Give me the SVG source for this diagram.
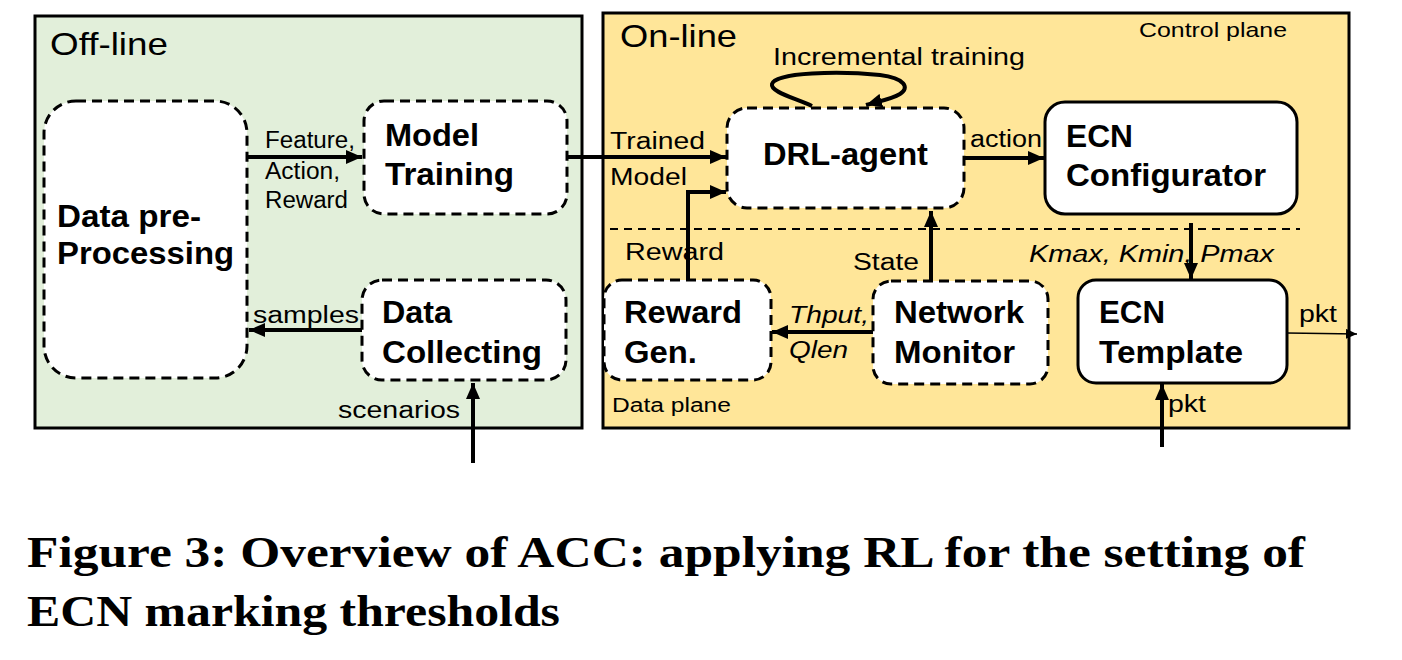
<svg xmlns="http://www.w3.org/2000/svg" width="1402" height="660" viewBox="0 0 1402 660">
<style>
.t{font-family:"Liberation Sans",Arial,sans-serif;fill:#000}
.nb{font-weight:bold;font-size:31px}
.lb{font-size:23px}
.it{font-style:italic}
.cap{font-family:"Liberation Serif","Times New Roman",serif;font-weight:bold;font-size:44px;fill:#000}
.dash{fill:#fff;stroke:#000;stroke-width:3;stroke-dasharray:10 6}
.solid{fill:#fff;stroke:#000;stroke-width:3}
.con{fill:none;stroke:#000;stroke-width:4}
</style>
<defs>
<marker id="ah" markerUnits="userSpaceOnUse" markerWidth="17" markerHeight="14" refX="16" refY="7" orient="auto">
<path d="M0,0 L16,7 L0,14 z" fill="#000"/>
</marker>
<marker id="ahs" markerUnits="userSpaceOnUse" markerWidth="12" markerHeight="10" refX="11" refY="5" orient="auto">
<path d="M0,0 L11,5 L0,10 z" fill="#000"/>
</marker>
</defs>
<rect width="1402" height="660" fill="#fff"/>

<g id="offline">
<rect x="35" y="16" width="547" height="412" fill="#e2efda" stroke="#000" stroke-width="3"/>
<text class="t" x="50" y="55" font-size="32" textLength="118" lengthAdjust="spacingAndGlyphs">Off-line</text>
</g>
<g id="online">
<rect x="603" y="13" width="746" height="415" fill="#ffe699" stroke="#000" stroke-width="3"/>
<text class="t" x="620" y="47" font-size="32" textLength="117" lengthAdjust="spacingAndGlyphs">On-line</text>
<text class="t" x="1139" y="37" font-size="21" textLength="148" lengthAdjust="spacingAndGlyphs">Control plane</text>
<text class="t" x="612" y="412" font-size="20" textLength="119" lengthAdjust="spacingAndGlyphs">Data plane</text>
<line x1="610" y1="229" x2="1300" y2="229" stroke="#000" stroke-width="2" stroke-dasharray="8 6"/>
</g>

<g id="data-preprocessing">
<rect class="dash" x="44" y="101" width="203" height="277" rx="32"/>
<text class="t nb" x="57" y="227" textLength="144" lengthAdjust="spacingAndGlyphs">Data pre-</text>
<text class="t nb" x="57" y="264" textLength="177" lengthAdjust="spacingAndGlyphs">Processing</text>
</g>
<g id="model-training">
<rect class="dash" x="364" y="101" width="203" height="113" rx="20"/>
<text class="t nb" x="385" y="146" textLength="94" lengthAdjust="spacingAndGlyphs">Model</text>
<text class="t nb" x="385" y="185" textLength="129" lengthAdjust="spacingAndGlyphs">Training</text>
</g>
<g id="data-collecting">
<rect class="dash" x="362" y="280" width="204" height="100" rx="20"/>
<text class="t nb" x="382" y="323" textLength="70" lengthAdjust="spacingAndGlyphs">Data</text>
<text class="t nb" x="382" y="363" textLength="160" lengthAdjust="spacingAndGlyphs">Collecting</text>
</g>
<g id="drl-agent">
<rect class="dash" x="727" y="108" width="237" height="100" rx="20"/>
<text class="t nb" x="763" y="165" font-size="32" textLength="165" lengthAdjust="spacingAndGlyphs">DRL-agent</text>
</g>
<g id="ecn-configurator">
<rect class="solid" x="1045" y="102" width="252" height="112" rx="20"/>
<text class="t nb" x="1066" y="147" textLength="67" lengthAdjust="spacingAndGlyphs">ECN</text>
<text class="t nb" x="1066" y="186" textLength="200" lengthAdjust="spacingAndGlyphs">Configurator</text>
</g>
<g id="reward-gen">
<rect class="dash" x="604" y="280" width="167" height="100" rx="18"/>
<text class="t nb" x="624" y="323" textLength="118" lengthAdjust="spacingAndGlyphs">Reward</text>
<text class="t nb" x="624" y="363" textLength="73" lengthAdjust="spacingAndGlyphs">Gen.</text>
</g>
<g id="network-monitor">
<rect class="dash" x="873" y="281" width="175" height="103" rx="18"/>
<text class="t nb" x="894" y="323" textLength="130" lengthAdjust="spacingAndGlyphs">Network</text>
<text class="t nb" x="894" y="363" textLength="121" lengthAdjust="spacingAndGlyphs">Monitor</text>
</g>
<g id="ecn-template">
<rect class="solid" x="1078" y="280" width="209" height="103" rx="18"/>
<text class="t nb" x="1099" y="323" textLength="66" lengthAdjust="spacingAndGlyphs">ECN</text>
<text class="t nb" x="1099" y="363" textLength="144" lengthAdjust="spacingAndGlyphs">Template</text>
</g>

<g id="connectors">
<path class="con" d="M247,157 L362,157" marker-end="url(#ah)"/>
<path class="con" d="M567,157 L726,157" marker-end="url(#ah)"/>
<path class="con" d="M362,330 L249,330" marker-end="url(#ah)"/>
<path class="con" d="M473,463 L473,383" marker-end="url(#ah)"/>
<path class="con" d="M688,280 L688,192 L726,192" marker-end="url(#ah)"/>
<path class="con" d="M931,280 L931,211" marker-end="url(#ah)"/>
<path class="con" d="M964,158 L1044,158" marker-end="url(#ah)"/>
<path class="con" d="M873,332 L772,332" marker-end="url(#ah)"/>
<path class="con" d="M1191,223 L1191,279" marker-end="url(#ah)"/>
<path class="con" d="M1162,447 L1162,384" marker-end="url(#ah)"/>
<path d="M1287,333 L1357,334" fill="none" stroke="#000" stroke-width="1.5" marker-end="url(#ahs)"/>
<path class="con" d="M812,106 C795,98 770,92 772,84 C775,72 840,71 880,75 C905,78 910,88 900,94 C892,99 880,101 866,105" marker-end="url(#ah)"/>
<text class="t lb" x="265" y="148" textLength="90" lengthAdjust="spacingAndGlyphs">Feature,</text>
<text class="t lb" x="265" y="179" textLength="75" lengthAdjust="spacingAndGlyphs">Action,</text>
<text class="t lb" x="265" y="208" textLength="83" lengthAdjust="spacingAndGlyphs">Reward</text>
<text class="t lb" x="253" y="323" font-size="24" textLength="106" lengthAdjust="spacingAndGlyphs">samples</text>
<text class="t lb" x="338" y="418" font-size="24" textLength="122" lengthAdjust="spacingAndGlyphs">scenarios</text>
<text class="t lb" x="610" y="149" font-size="24" textLength="95" lengthAdjust="spacingAndGlyphs">Trained</text>
<text class="t lb" x="610" y="185" font-size="24" textLength="77" lengthAdjust="spacingAndGlyphs">Model</text>
<text class="t lb" x="773" y="65" font-size="26" textLength="252" lengthAdjust="spacingAndGlyphs">Incremental training</text>
<text class="t lb" x="970" y="147" font-size="25" textLength="72" lengthAdjust="spacingAndGlyphs">action</text>
<text class="t lb" x="625" y="260" font-size="24" textLength="99" lengthAdjust="spacingAndGlyphs">Reward</text>
<text class="t lb" x="853" y="270" font-size="24" textLength="66" lengthAdjust="spacingAndGlyphs">State</text>
<text class="t lb it" x="789" y="323" font-size="24" textLength="80" lengthAdjust="spacingAndGlyphs">Thput,</text>
<text class="t lb it" x="789" y="358" font-size="24" textLength="59" lengthAdjust="spacingAndGlyphs">Qlen</text>
<text class="t lb it" x="1029" y="262" font-size="24" textLength="245" lengthAdjust="spacingAndGlyphs">Kmax, Kmin, Pmax</text>
<text class="t lb" x="1299" y="322" font-size="24" textLength="38" lengthAdjust="spacingAndGlyphs">pkt</text>
<text class="t lb" x="1168" y="412" font-size="24" textLength="38" lengthAdjust="spacingAndGlyphs">pkt</text>
</g>

<text class="cap" x="27" y="567" textLength="1278" lengthAdjust="spacingAndGlyphs">Figure 3: Overview of ACC: applying RL for the setting of</text>
<text class="cap" x="27" y="626" textLength="533" lengthAdjust="spacingAndGlyphs">ECN marking thresholds</text>
</svg>
